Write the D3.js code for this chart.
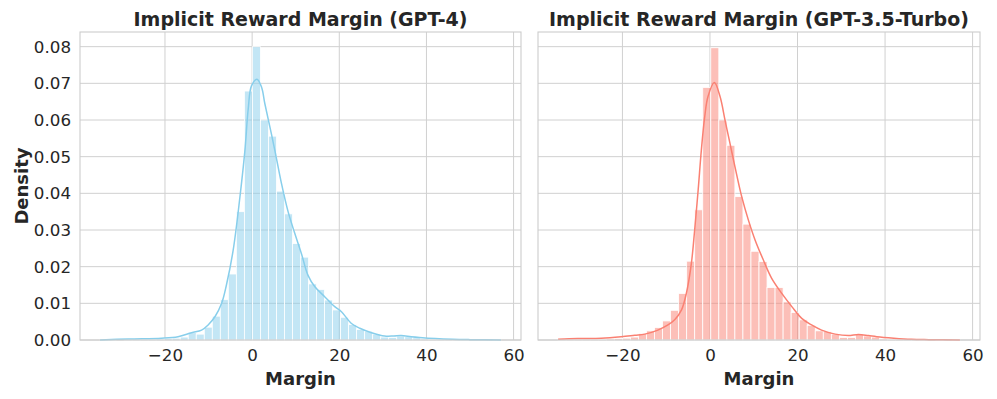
<!DOCTYPE html>
<html>
<head>
<meta charset="utf-8">
<script src="https://cdn.jsdelivr.net/npm/d3@7"></script>
<style>
  body { margin: 0; background: #fff; }
  text { font-family: "DejaVu Sans", sans-serif; fill: #262626; }
</style>
</head>
<body>
<div id="container"></div>
<script>
// histogram densities, 50 equal bins between min and max of each sample
var gpt4Range = [-34.9, 57.1];
var gpt4Density = [
  0.0001, 0.0001, 0, 0.0001, 0.0001, 0.0002, 0.0002, 0.0003, 0.0004, 0.0005,
  0.0008, 0.0020, 0.0016, 0.0035, 0.0065, 0.0110, 0.0180, 0.0350, 0.0679, 0.0800,
  0.0600, 0.0556, 0.0406, 0.0344, 0.0263, 0.0226, 0.0153, 0.0138, 0.0109, 0.0082,
  0.0062, 0.0042, 0.0029, 0.0024, 0.0016, 0.0008, 0.0007, 0.0011, 0.0009, 0.0006,
  0.0003, 0.0002, 0.0002, 0.0001, 0.0001, 0.0001, 0, 0, 0, 0.0001
];
var gpt35Range = [-34.7, 57.1];
var gpt35Density = [
  0.0001, 0.0001, 0.0001, 0.0001, 0.0002, 0.0002, 0.0003, 0.0004, 0.0005, 0.0008,
  0.0018, 0.0025, 0.0034, 0.0052, 0.0081, 0.0127, 0.0215, 0.0355, 0.0689, 0.0797,
  0.0600, 0.0531, 0.0391, 0.0316, 0.0242, 0.0214, 0.0143, 0.0143, 0.0104, 0.0075,
  0.0055, 0.0040, 0.0025, 0.0023, 0.0016, 0.0007, 0.0007, 0.0016, 0.0011, 0.0008,
  0.0003, 0.0002, 0.0002, 0.0001, 0.0001, 0.0001, 0, 0.0001, 0, 0.0001
];

// kde curves: [margin, density]
var gpt4Kde = [
  [-34.9, 0], [-28.4, 0.0003], [-20.8, 0.0005], [-17.0, 0.0009], [-13.9, 0.0020],
  [-11.6, 0.0027], [-10.1, 0.0041], [-8.5, 0.0064], [-7.0, 0.0100], [-5.9, 0.0150],
  [-4.35, 0.0245], [-2.8, 0.0390], [-1.67, 0.0515], [-0.9, 0.0630], [-0.15, 0.0693],
  [1.1, 0.0711], [2.15, 0.0690], [2.91, 0.0645], [4.06, 0.0582], [5.2, 0.0518],
  [6.73, 0.0427], [8.25, 0.0350], [9.78, 0.0291], [11.3, 0.0236], [12.8, 0.0177],
  [14.4, 0.0145], [16.65, 0.0118], [18.95, 0.0091], [20.5, 0.0077], [22.8, 0.0045],
  [24.7, 0.0032], [27.4, 0.0020], [30.4, 0.0011], [32.5, 0.0011], [34.2, 0.0012],
  [36.5, 0.0009], [38.4, 0.0007], [42, 0.0004], [46, 0.0002], [50, 0.0001], [57.1, 0]
];
var gpt35Kde = [
  [-34.7, 0.0002], [-30.2, 0.0004], [-24.8, 0.0005], [-20.3, 0.0009], [-17.2, 0.0013],
  [-14.9, 0.0016], [-11.9, 0.0027], [-9.6, 0.0041], [-8.07, 0.0055], [-6.5, 0.0082],
  [-5.4, 0.0127], [-4.25, 0.0209], [-3.5, 0.0300], [-2.7, 0.0409], [-1.97, 0.0518],
  [-1.2, 0.0609], [-0.45, 0.0664], [1.0, 0.0702], [2.3, 0.0664], [3.43, 0.0600],
  [4.57, 0.0536], [5.7, 0.0473], [7.25, 0.0391], [8.78, 0.0327], [10.3, 0.0273],
  [12.2, 0.0218], [14.1, 0.0168], [16.4, 0.0127], [18.7, 0.0091], [20.96, 0.0059],
  [23.2, 0.0041], [25.5, 0.0027], [28.6, 0.0016], [31.6, 0.0012], [33.9, 0.0015],
  [36.2, 0.0012], [38.1, 0.0009], [42, 0.0005], [46, 0.0002], [50, 0.0001], [57.1, 0]
];

var xTicks = [-20, 0, 20, 40, 60];
var yTicks = [0, 0.01, 0.02, 0.03, 0.04, 0.05, 0.06, 0.07, 0.08];
var titles = ['Implicit Reward Margin (GPT-4)', 'Implicit Reward Margin (GPT-3.5-Turbo)'];

var W = 997, H = 399;
var svg = d3.select('#container').append('svg')
  .attr('width', W)
  .attr('height', H);

var plotTop = 32, plotBottom = 340;
var y = d3.scaleLinear().domain([0, 0.084]).range([plotBottom, plotTop]);

function drawPanel(opts) {
  var left = opts.left, right = opts.right;
  var span = opts.range[1] - opts.range[0];
  var x = d3.scaleLinear()
    .domain([opts.range[0] - span * 0.05, opts.range[1] + span * 0.05])
    .range([left, right]);
  var shownX = xTicks.filter(function(t) { return t > x.domain()[0] && t < x.domain()[1]; });

  var g = svg.append('g');

  // grid
  g.selectAll('.vgrid').data(shownX)
    .enter().append('line')
      .attr('x1', function(d) { return x(d); })
      .attr('x2', function(d) { return x(d); })
      .attr('y1', plotTop).attr('y2', plotBottom)
      .attr('stroke', '#d0d0d0').attr('stroke-width', 1);
  g.selectAll('.hgrid').data(yTicks)
    .enter().append('line')
      .attr('x1', left).attr('x2', right)
      .attr('y1', function(d) { return y(d); })
      .attr('y2', function(d) { return y(d); })
      .attr('stroke', '#d0d0d0').attr('stroke-width', 1);

  // bars
  var n = opts.density.length;
  var bw = span / n;
  g.selectAll('.bar').data(opts.density)
    .enter().append('rect')
      .attr('x', function(d, i) { return x(opts.range[0] + i * bw); })
      .attr('y', function(d) { return y(d); })
      .attr('width', function(d, i) { return x(opts.range[0] + (i + 1) * bw) - x(opts.range[0] + i * bw); })
      .attr('height', function(d) { return plotBottom - y(d); })
      .attr('fill', opts.color).attr('fill-opacity', 0.5)
      .attr('stroke', '#fff').attr('stroke-width', 0.8);

  // kde
  var line = d3.line()
    .x(function(d) { return x(d[0]); })
    .y(function(d) { return y(d[1]); })
    .curve(d3.curveCatmullRom.alpha(0.5));
  g.append('path')
    .attr('d', line(opts.kde))
    .attr('fill', 'none')
    .attr('stroke', opts.color)
    .attr('stroke-width', 1.5);

  // frame
  g.append('rect')
    .attr('x', left).attr('y', plotTop)
    .attr('width', right - left).attr('height', plotBottom - plotTop)
    .attr('fill', 'none').attr('stroke', '#cccccc').attr('stroke-width', 1.1);

  var xAxis = g.append('g')
    .attr('transform', 'translate(0,' + plotBottom + ')')
    .call(d3.axisBottom(x).tickValues(shownX).tickSize(0).tickPadding(9).tickFormat(d3.format('d')));
  xAxis.select('.domain').remove();
  xAxis.selectAll('text').attr('font-size', '16.7px').attr('font-family', '"DejaVu Sans", sans-serif').style('fill', '#262626');

  if (opts.yLabels) {
    var yAxis = g.append('g')
      .attr('transform', 'translate(' + left + ',0)')
      .call(d3.axisLeft(y).tickValues(yTicks).tickSize(0).tickPadding(9).tickFormat(d3.format('.2f')));
    yAxis.select('.domain').remove();
    yAxis.selectAll('text').attr('font-size', '16.7px').attr('font-family', '"DejaVu Sans", sans-serif').style('fill', '#262626');

    g.append('text')
      .attr('transform', 'translate(28,' + ((plotTop + plotBottom) / 2) + ') rotate(-90)')
      .attr('text-anchor', 'middle')
      .attr('font-size', '18px').attr('font-weight', 'bold')
      .text('Density');
  }

  g.append('text')
    .attr('x', (left + right) / 2).attr('y', 385)
    .attr('text-anchor', 'middle')
    .attr('font-size', '18px').attr('font-weight', 'bold')
    .text('Margin');

  g.append('text')
    .attr('x', (left + right) / 2).attr('y', 26)
    .attr('text-anchor', 'middle')
    .attr('font-size', '19px').attr('font-weight', 'bold')
    .text(opts.title);
}

drawPanel({left: 80, right: 521, range: gpt4Range, density: gpt4Density, kde: gpt4Kde,
  color: '#87ceeb', title: titles[0], yLabels: true});
drawPanel({left: 538, right: 980, range: gpt35Range, density: gpt35Density, kde: gpt35Kde,
  color: '#fa8072', title: titles[1], yLabels: false});
</script>
</body>
</html>
